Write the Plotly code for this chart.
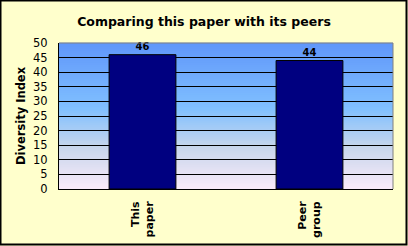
import plotly.graph_objects as go

categories = ["This<br>paper", "Peer<br>group"]
values = [46, 44]
value_labels = ["46", "44"]
y_ticks = [0, 5, 10, 15, 20, 25, 30, 35, 40, 45, 50]

W, H = 408, 246
ML, MR, MT, MB = 59, 15, 43, 57
PW, PH = W - ML - MR, H - MT - MB

FONT = "Verdana, DejaVu Sans, sans-serif"

fig = go.Figure()
fig.add_trace(go.Bar(
    x=categories, y=values,
    marker=dict(color="#000080", line=dict(color="#000000", width=1)),
    text=value_labels, textposition="outside",
    textfont=dict(family=FONT, size=10, color="#000000", weight="bold"),
    cliponaxis=False, width=0.4,
))

# gradient background bands (top blue -> bottom pink)
stops = [(0.0, (95, 150, 250)), (0.45, (128, 192, 255)), (0.72, (200, 214, 236)), (1.0, (250, 234, 250))]
def col(t):
    for i in range(len(stops) - 1):
        t0, c0 = stops[i]
        t1, c1 = stops[i + 1]
        if t0 <= t <= t1:
            f = (t - t0) / (t1 - t0)
            return "rgb(%d,%d,%d)" % tuple(round(a + (b - a) * f) for a, b in zip(c0, c1))
    return "rgb(%d,%d,%d)" % stops[-1][1]

shapes = []
N = 73
for i in range(N):
    y1 = 1 - i / N
    y0 = 1 - (i + 1) / N
    shapes.append(dict(type="rect", xref="x domain", yref="y domain",
                       x0=0, x1=1, y0=y0, y1=y1 + 0.002, layer="below",
                       line=dict(width=0), fillcolor=col((i + 0.5) / N)))
# plot area gray top/right border
shapes.append(dict(type="line", xref="x domain", yref="y domain", x0=0, x1=1, y0=1, y1=1,
                   line=dict(color="#808080", width=1), layer="above"))
shapes.append(dict(type="line", xref="x domain", yref="y domain", x0=1, x1=1, y0=0, y1=1,
                   line=dict(color="#808080", width=1), layer="above"))
# outer black border around the whole image
px = lambda p: (p - ML) / PW
py = lambda p: 1 - (p - MT) / PH
shapes.append(dict(type="rect", xref="paper", yref="paper",
                   x0=px(0.5), x1=px(W - 1.5), y0=py(H - 1.5), y1=py(0.5),
                   line=dict(color="#000000", width=2), layer="above"))

fig.update_layout(
    width=W, height=H,
    margin=dict(l=ML, r=MR, t=MT, b=MB),
    paper_bgcolor="#FFFFCC", plot_bgcolor="#FFFFCC",
    showlegend=False,
    shapes=shapes,
    title=dict(text="<b>Comparing this paper with its peers</b>", x=0.5, xanchor="center",
               y=1 - 22 / H, yanchor="middle",
               font=dict(family=FONT, size=12.5, color="#000000")),
    font=dict(family=FONT, color="#000000"),
)
fig.update_yaxes(range=[0, 50], tickvals=y_ticks, showgrid=True, gridcolor="#000000", gridwidth=1,
                 showline=True, linecolor="#000000", linewidth=1, zeroline=False,
                 tickfont=dict(family=FONT, size=11.5, color="#000000"), ticks="",
                 ticklabelstandoff=8, automargin=False,
                 title=dict(text="<b>Diversity Index</b>", font=dict(family=FONT, size=11.5, color="#000000"),
                            standoff=5))
fig.update_xaxes(showline=True, linecolor="#000000", linewidth=1, tickangle=-90,
                 tickfont=dict(family=FONT, size=11, color="#000000", weight="bold"), ticks="",
                 ticklabelstandoff=7, showgrid=False, automargin=False)

fig.write_html("out.html")
